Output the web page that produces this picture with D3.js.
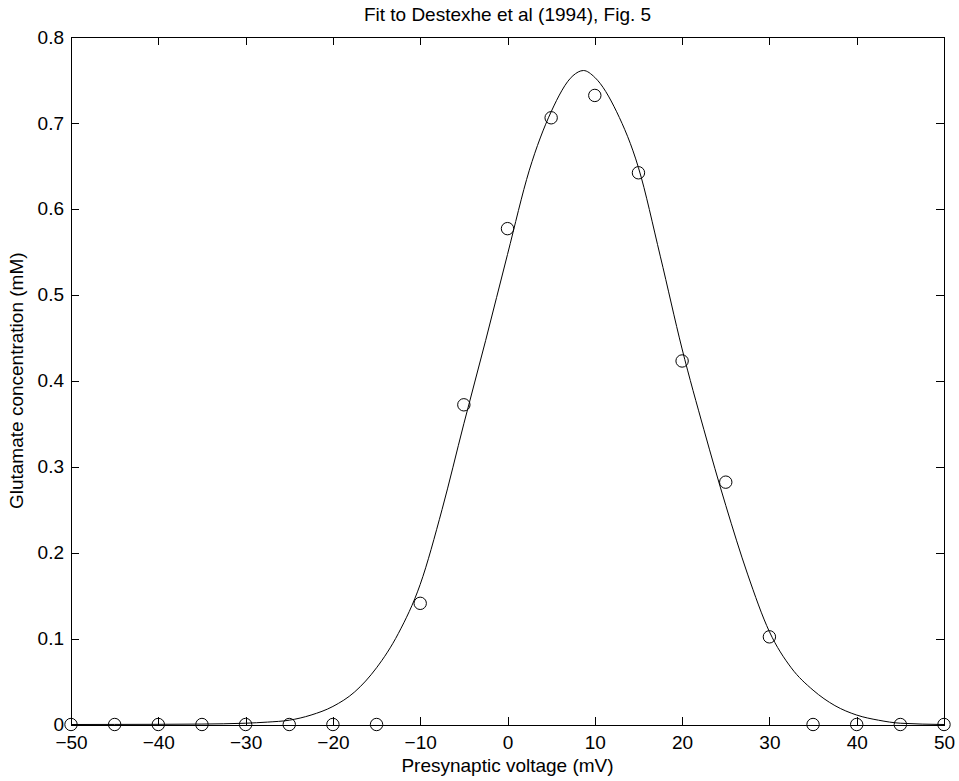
<!DOCTYPE html>
<html>
<head>
  <meta charset="utf-8">
  <style>
    body { margin: 0; background: #fff; }
    svg { display: block; font-family: "Liberation Sans", Arial, Helvetica, sans-serif; }
    .axis path, .axis line { stroke: #000; stroke-width: 1; shape-rendering: crispEdges; }
    .axis text { fill: #000; font-size: 19px; }
  </style>
</head>
<body>
<svg width="959" height="781"></svg>
<script src="https://d3js.org/d3.v7.min.js"></script>
<script>

// measured points (circles)
var voltage = [-50, -45, -40, -35, -30, -25, -20, -15, -10, -5, 0, 5, 10, 15, 20, 25, 30, 35, 40, 45, 50];
var glutamate = [0, 0, 0, 0, 0, 0, 0, 0, 0.141, 0.372, 0.577, 0.706, 0.732, 0.642, 0.423, 0.282, 0.102, 0, 0, 0, 0];

// fitted curve
var fitV = [-50, -45, -40, -35, -30, -27.5, -25, -22.5, -20, -17.5, -15, -12.5, -10, -7.5, -5, -2.5, 0, 2.5, 5, 7.5, 8.7,
            10, 12.5, 15, 17.5, 20, 22.5, 25, 27.5, 30, 32.5, 35, 37.5, 40, 42.5, 45, 50];
var fitG = [0, 0.0001, 0.0002, 0.0005, 0.0015, 0.0028, 0.005, 0.011, 0.021, 0.038, 0.066, 0.106, 0.163, 0.250, 0.350, 0.447, 0.547, 0.645, 0.713, 0.755, 0.761,
            0.753, 0.713, 0.648, 0.545, 0.437, 0.343, 0.255, 0.175, 0.108, 0.066, 0.040, 0.022, 0.011, 0.005, 0.0015, 0];

var xTicks = [-50, -40, -30, -20, -10, 0, 10, 20, 30, 40, 50];
var yTicks = [0, 0.1, 0.2, 0.3, 0.4, 0.5, 0.6, 0.7, 0.8];

var svg = d3.select("svg");
var plotL = 71, plotR = 944, plotT = 37, plotB = 724.5;

var x = d3.scaleLinear().domain([-50, 50]).range([plotL, plotR]);
var y = d3.scaleLinear().domain([0, 0.8]).range([plotB, plotT]);

var yFmt = function(d) { return d === 0 ? "0" : d3.format(".1f")(d); };

svg.append("g").attr("class", "axis")
    .attr("transform", "translate(0," + plotB + ")")
    .call(d3.axisBottom(x).tickValues(xTicks).tickSizeInner(-8).tickSizeOuter(0).tickPadding(11));

svg.append("g").attr("class", "axis")
    .attr("transform", "translate(0," + plotT + ")")
    .call(d3.axisTop(x).tickValues(xTicks).tickSizeInner(-8).tickSizeOuter(0).tickFormat(""));

svg.append("g").attr("class", "axis")
    .attr("transform", "translate(" + plotL + ",0)")
    .call(d3.axisLeft(y).tickValues(yTicks).tickSizeInner(-8).tickSizeOuter(0).tickPadding(7).tickFormat(yFmt));

svg.append("g").attr("class", "axis")
    .attr("transform", "translate(" + plotR + ",0)")
    .call(d3.axisRight(y).tickValues(yTicks).tickSizeInner(-8).tickSizeOuter(0).tickFormat(""));

// fitted curve
var line = d3.line()
    .x(function(d) { return x(d[0]); })
    .y(function(d) { return y(d[1]); })
    .curve(d3.curveMonotoneX);

svg.append("path")
    .datum(d3.zip(fitV, fitG))
    .attr("d", line)
    .attr("fill", "none")
    .attr("stroke", "#000")
    .attr("stroke-width", 1);

// data points
svg.append("g").selectAll("circle")
    .data(d3.zip(voltage, glutamate))
    .enter().append("circle")
    .attr("cx", function(d) { return x(d[0]); })
    .attr("cy", function(d) { return y(d[1]); })
    .attr("r", 6.2)
    .attr("fill", "none")
    .attr("stroke", "#000")
    .attr("stroke-width", 1);

// labels
svg.append("text")
    .attr("x", (plotL + plotR) / 2).attr("y", 21)
    .attr("text-anchor", "middle")
    .style("font-size", "19px")
    .text("Fit to Destexhe et al (1994), Fig. 5");

svg.append("text")
    .attr("x", (plotL + plotR) / 2).attr("y", 772)
    .attr("text-anchor", "middle")
    .style("font-size", "19px")
    .text("Presynaptic voltage (mV)");

svg.append("text")
    .attr("transform", "translate(23," + (plotT + plotB) / 2 + ") rotate(-90)")
    .attr("text-anchor", "middle")
    .style("font-size", "19px")
    .text("Glutamate concentration (mM)");

</script>
</body>
</html>
